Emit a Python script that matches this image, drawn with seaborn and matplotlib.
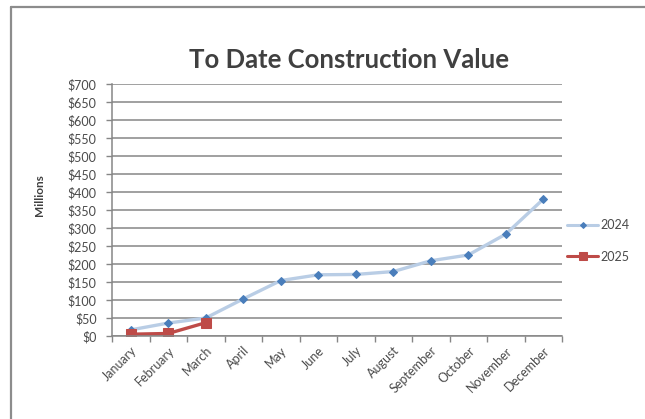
import numpy as np
import pandas as pd
import matplotlib
matplotlib.use("Agg")
import matplotlib.pyplot as plt
from matplotlib.lines import Line2D
from matplotlib.ticker import FixedLocator, FuncFormatter
import seaborn as sns

months = ["January", "February", "March", "April", "May", "June", "July",
          "August", "September", "October", "November", "December"]
values_2024 = [17, 36, 50, 103, 154, 170, 171, 179, 209, 225, 283, 380]
values_2025 = [5, 7, 37]
y_ticks = list(range(0, 701, 50))

sns.set_theme(style="white")
plt.rcParams["font.family"] = ["Lato", "DejaVu Sans"]

df24 = pd.DataFrame({"pos": np.arange(len(values_2024)), "value": values_2024})
df25 = pd.DataFrame({"pos": np.arange(len(values_2025)), "value": values_2025})

fig = plt.figure(figsize=(6.45, 4.19), dpi=100)
ax = fig.add_axes([112 / 645, 1 - 336 / 419, 450 / 645, 252 / 419])

# horizontal gridlines
ax.set_axisbelow(True)
ax.yaxis.grid(True, color="#868686", linewidth=1.1)

sns.lineplot(data=df24, x="pos", y="value", ax=ax, color="#B9CDE5", linewidth=2.4,
             marker="D", markersize=4.5, markerfacecolor="#4A7EBB",
             markeredgecolor="#4A7EBB", label="2024")
sns.lineplot(data=df25, x="pos", y="value", ax=ax, color="#BE4B48", linewidth=2.4,
             marker="s", markersize=7.5, markerfacecolor="#BE4B48",
             markeredgecolor="#BE4B48", label="2025")

ax.set_xlim(-0.5, len(months) - 0.5)
ax.set_ylim(0, 700)
ax.set_yticks(y_ticks)
ax.yaxis.set_major_formatter(FuncFormatter(lambda v, p: f"${int(v)}"))
ax.tick_params(axis="y", which="major", length=4, width=1, color="#868686",
               labelsize=9, labelcolor="#4A4A4A", pad=7, left=True)

# category boundaries get ticks, centers get labels
ax.xaxis.set_major_locator(FixedLocator(np.arange(-0.5, len(months), 1.0)))
ax.xaxis.set_minor_locator(FixedLocator(np.arange(len(months))))
ax.set_xticklabels([], minor=False)
ax.set_xticklabels(months, minor=True, rotation=45, ha="right",
                   rotation_mode="anchor", fontsize=9, color="#4A4A4A")
ax.tick_params(axis="x", which="major", length=4, width=1, color="#868686", bottom=True)
ax.tick_params(axis="x", which="minor", length=0, pad=6)

for side in ["top", "right"]:
    ax.spines[side].set_visible(False)
for side in ["left", "bottom"]:
    ax.spines[side].set_color("#868686")
    ax.spines[side].set_linewidth(1.1)

ax.set_xlabel("")
ax.set_ylabel("")
fig.text(39 / 645, 1 - 195 / 419, "Millions", rotation=90, ha="center", va="center",
         fontsize=8.5, fontweight="bold", color="#404040")

fig.text(349 / 645, 1 - 60 / 419, "To Date Construction Value", ha="center",
         va="center", fontsize=18.5, fontweight="bold", color="#404040")

leg = ax.legend(loc="center left", bbox_to_anchor=(567 / 645, 1 - 241 / 419),
                bbox_transform=fig.transFigure, frameon=False, fontsize=9,
                handlelength=2.5, handletextpad=0.2, labelspacing=1.55,
                borderaxespad=0, borderpad=0)
for t in leg.get_texts():
    t.set_color("#4A4A4A")
leg_sizes = [3, 6]
for h, s in zip(leg.legend_handles, leg_sizes):
    h.set_markersize(s)
    h.set_linewidth(2.2)

# outer chart frame
fig.add_artist(Line2D([11 / 645, 11 / 645], [0, 1 - 7 / 419], transform=fig.transFigure,
                      color="#8C8C8C", linewidth=1.6))
fig.add_artist(Line2D([11 / 645, 1], [1 - 7 / 419, 1 - 7 / 419], transform=fig.transFigure,
                      color="#8C8C8C", linewidth=1.6))

fig.savefig("out.png", dpi=100)
